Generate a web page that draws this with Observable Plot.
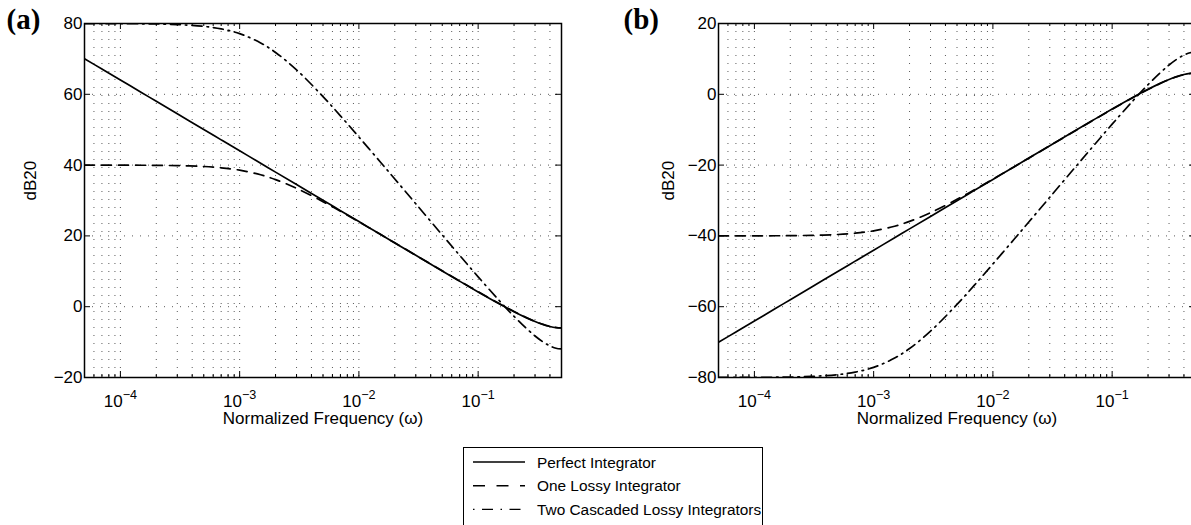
<!DOCTYPE html>
<html><head><meta charset="utf-8">
<script src="https://cdn.jsdelivr.net/npm/d3@7"></script>
<script src="https://cdn.jsdelivr.net/npm/@observablehq/plot@0.6"></script>
<style>
html,body{margin:0;padding:0;overflow:hidden;background:#fff;}
#root{position:relative;width:1191px;height:525px;overflow:hidden;font-family:"Liberation Sans",Arial,Helvetica,sans-serif;}
.panel{position:absolute;top:0;height:440px;}
.panel svg{overflow:visible;max-width:none !important;display:block;}
#legend{position:absolute;left:463px;top:447px;width:300px;height:84px;border:1px solid #000;box-sizing:border-box;background:#fff;}
</style></head><body>
<div id="root">
  <div id="pa" class="panel" style="left:0px;width:600px"></div>
  <div id="pb" class="panel" style="left:600px;width:634px"></div>
  <div id="legend"></div>
</div>
<script>
// ---- data ----
const freqs = [5e-5, 7e-5, 1e-4, 1.5e-4, 2e-4, 3e-4, 5e-4, 7e-4, 1e-3, 1.5e-3, 2e-3, 3e-3, 5e-3, 7e-3, 1e-2, 1.5e-2, 2e-2, 3e-2, 5e-2, 7e-2, 0.1, 0.15, 0.2, 0.25, 0.3, 0.35, 0.4, 0.45, 0.5];

const perfectA = [70.06, 67.13, 64.04, 60.52, 58.02, 54.49, 50.06, 47.13, 44.04, 40.52, 38.02, 34.49, 30.06, 27.14, 24.04, 20.52, 18.02, 14.51, 10.09, 7.21, 4.18, 0.84, -1.41, -3.01, -4.18, -5.02, -5.59, -5.91, -6.02];
const lossyA   = [40.00, 39.99, 39.98, 39.96, 39.93, 39.85, 39.60, 39.24, 38.57, 37.26, 35.91, 33.45, 29.68, 26.96, 23.97, 20.51, 18.04, 14.54, 10.13, 7.25, 4.22, 0.88, -1.36, -2.97, -4.14, -4.98, -5.54, -5.87, -5.98];
const cascA    = [79.99, 79.98, 79.97, 79.92, 79.87, 79.70, 79.19, 78.48, 77.14, 74.52, 71.82, 66.90, 59.36, 53.92, 47.94, 41.03, 36.08, 29.08, 20.26, 14.49, 8.44, 1.76, -2.72, -5.93, -8.27, -9.95, -11.08, -11.74, -11.95];

const perfectB = [-70.06, -67.13, -64.04, -60.52, -58.02, -54.49, -50.06, -47.13, -44.04, -40.52, -38.02, -34.49, -30.06, -27.14, -24.04, -20.52, -18.02, -14.51, -10.09, -7.21, -4.18, -0.84, 1.41, 3.01, 4.18, 5.02, 5.59, 5.91, 6.02];
const lossyB   = [-40.00, -39.99, -39.98, -39.96, -39.93, -39.85, -39.60, -39.24, -38.57, -37.26, -35.91, -33.45, -29.68, -26.96, -23.97, -20.51, -18.04, -14.54, -10.13, -7.25, -4.22, -0.88, 1.36, 2.97, 4.14, 4.98, 5.54, 5.87, 5.98];
const cascB    = [-79.99, -79.98, -79.97, -79.92, -79.87, -79.70, -79.19, -78.48, -77.14, -74.52, -71.82, -66.90, -59.36, -53.92, -47.94, -41.03, -36.08, -29.08, -20.26, -14.49, -8.44, -1.76, 2.72, 5.93, 8.27, 9.95, 11.08, 11.74, 11.95];

const seriesNames = ["Perfect Integrator", "One Lossy Integrator", "Two Cascaded Lossy Integrators"];
const xMajorTicks = [1e-4, 1e-3, 1e-2, 1e-1];
const xMinorTicks = [6e-5, 7e-5, 8e-5, 9e-5,
  2e-4, 3e-4, 4e-4, 5e-4, 6e-4, 7e-4, 8e-4, 9e-4,
  2e-3, 3e-3, 4e-3, 5e-3, 6e-3, 7e-3, 8e-3, 9e-3,
  2e-2, 3e-2, 4e-2, 5e-2, 6e-2, 7e-2, 8e-2, 9e-2,
  0.2, 0.3, 0.4];
const yTicksA = [-20, 0, 20, 40, 60, 80];
const yTicksB = [-80, -60, -40, -20, 0, 20];
const xLabel = "Normalized Frequency (ω)";
const yLabel = "dB20";

// ---- styles ----
const FONT = '"Liberation Sans", Arial, Helvetica, sans-serif';
const plotDashes = [null, "10,7", "10,5,1.5,5"];
const legendDashes = [null, "12,11.5", "1.5,7.5,11,7.5"];

function panel(el, {series, yDomain, yTicks, tag, marginLeft, width, tagDx, ylabDx}) {
  const frameW = 477, frameH = 354;
  const lineMarks = series.map((vals, i) => Plot.line(
    freqs.map((f, j) => ({f, v: vals[j]})),
    {x: "f", y: "v", stroke: "#000", strokeWidth: 1.7, strokeDasharray: plotDashes[i], curve: "catmull-rom", clip: true}
  ));
  const svg = Plot.plot({
    width, height: 440,
    marginLeft, marginRight: width - marginLeft - frameW, marginTop: 23, marginBottom: 440 - 23 - frameH,
    style: {fontFamily: FONT, fontSize: "17px", background: "transparent", color: "#000", overflow: "visible", maxWidth: "none"},
    x: {type: "log", domain: [5e-5, 0.5]},
    y: {domain: yDomain},
    marks: [
      Plot.gridX([...xMinorTicks, ...xMajorTicks], {stroke: "#000", strokeOpacity: 0.65, strokeDasharray: "1,7"}),
      Plot.gridY(yTicks, {stroke: "#000", strokeOpacity: 0.65, strokeDasharray: "1,7"}),
      ...lineMarks,
      Plot.tickX(xMajorTicks, {insetTop: frameH - 6, stroke: "#000"}),
      Plot.tickX(xMajorTicks, {insetBottom: frameH - 6, stroke: "#000"}),
      Plot.tickX(xMinorTicks, {insetTop: frameH - 3, stroke: "#000"}),
      Plot.tickX(xMinorTicks, {insetBottom: frameH - 3, stroke: "#000"}),
      Plot.tickY(yTicks, {insetRight: frameW - 6, stroke: "#000"}),
      Plot.tickY(yTicks, {insetLeft: frameW - 6, stroke: "#000"}),
      Plot.frame({stroke: "#000", strokeWidth: 1.5}),
      Plot.axisX(xMajorTicks, {tickSize: 0, tickPadding: 17, label: null, tickFormat: d => "10^" + Math.round(Math.log10(d))}),
      Plot.axisY(yTicks, {tickSize: 0, tickPadding: 2, label: null, tickFormat: d => d < 0 ? "\u2212" + Math.abs(d) : String(d)}),
      Plot.text([xLabel], {frameAnchor: "bottom", dy: 46, lineAnchor: "bottom", fontSize: 17}),
      Plot.text([yLabel], {frameAnchor: "left", dx: ylabDx, rotate: -90, fontSize: 17}),
      Plot.text([tag], {frameAnchor: "top-left", dx: tagDx, dy: 5, textAnchor: "start", lineAnchor: "bottom", fontFamily: '"Liberation Serif", "Times New Roman", serif', fontWeight: "bold", fontSize: 29})
    ]
  });
  // superscript exponents on x tick labels
  d3.select(svg).selectAll('g[aria-label="x-axis tick label"] text').each(function() {
    const t = this.textContent;
    if (!t.includes("^")) return;
    const exp = t.split("^")[1];
    const s = d3.select(this);
    s.text(null);
    s.append("tspan").text("10");
    s.append("tspan").attr("dy", "-0.62em").attr("font-size", "0.74em").text(exp.replace("-", "\u2212"));
  });
  document.getElementById(el).appendChild(svg);
}

panel("pa", {series: [perfectA, lossyA, cascA], yDomain: [-20, 80], yTicks: yTicksA, tag: "(a)", marginLeft: 84, width: 600, tagDx: -78, ylabDx: -54});
panel("pb", {series: [perfectB, lossyB, cascB], yDomain: [-80, 20], yTicks: yTicksB, tag: "(b)", marginLeft: 118, width: 634, tagDx: -95, ylabDx: -50});

// ---- legend ----
const lg = d3.select("#legend").append("svg").attr("width", 298).attr("height", 82)
  .style("font-family", FONT).style("display", "block");
seriesNames.forEach((name, i) => {
  const y = 14 + i * 23.7;
  lg.append("line").attr("x1", 9).attr("x2", 61).attr("y1", y).attr("y2", y)
    .attr("stroke", "#000").attr("stroke-width", 1.4).attr("stroke-dasharray", legendDashes[i]);
  lg.append("text").attr("x", 73).attr("y", y).attr("dy", "0.36em").attr("font-size", 15.4).attr("fill", "#000").text(name);
});
</script>
</body></html>
